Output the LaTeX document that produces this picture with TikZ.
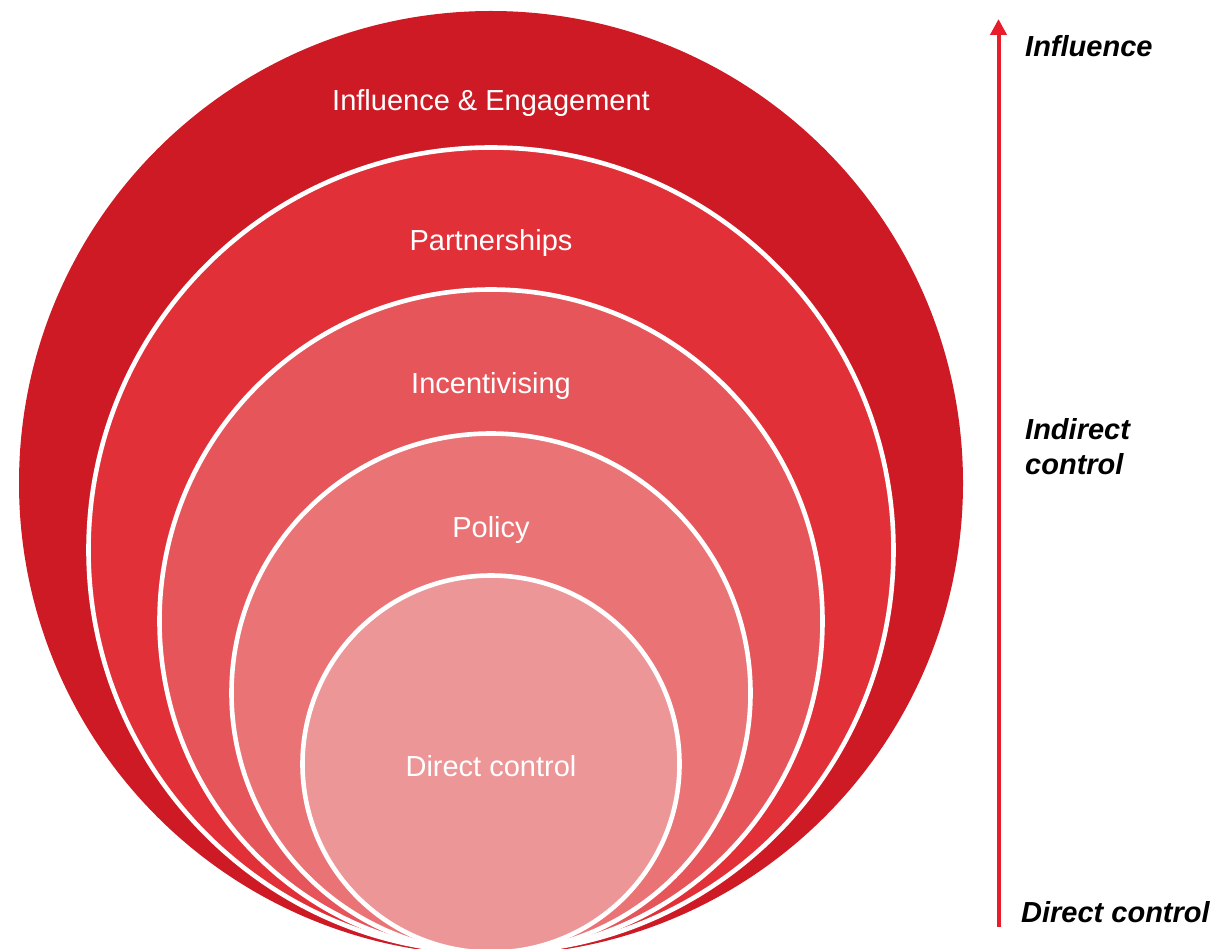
\documentclass[tikz,border=0pt]{standalone}
\usepackage{fontspec}
\setmainfont{Liberation Sans}
\usetikzlibrary{arrows.meta}
\definecolor{ringA}{HTML}{CD1A24}
\definecolor{ringB}{HTML}{E13038}
\definecolor{ringC}{HTML}{E5555A}
\definecolor{ringD}{HTML}{EA7475}
\definecolor{ringE}{HTML}{EC9698}
\definecolor{arrowred}{HTML}{E81C2B}
\tikzset{
  ring/.style={circle, inner sep=0pt, outer sep=0pt, draw=white, line width=4.6pt},
  ringlabel/.style={anchor=base, text=white, inner sep=0pt, font=\fontsize{29}{35}\selectfont},
  sidelabel/.style={anchor=base west, inner sep=0pt, align=left, font=\fontsize{29}{35}\selectfont\bfseries\itshape},
}
\begin{document}
\begin{tikzpicture}[x=1pt,y=-1pt]
\useasboundingbox (0,0) rectangle (1231,949);
\clip (0,0) rectangle (1231,949);
\node[ring, fill=ringA, draw=none, minimum size=944pt] (c1) at (491,483) {};
\node[ring, fill=ringB, minimum size=805pt] (c2) at (491,550) {};
\node[ring, fill=ringC, minimum size=663pt] (c3) at (491,621) {};
\node[ring, fill=ringD, minimum size=519pt] (c4) at (491,693) {};
\node[ring, fill=ringE, minimum size=377pt] (c5) at (491,764) {};
\node[ringlabel] (l1) at (491,111) {Influence \& Engagement};
\node[ringlabel] (l2) at (491,251) {Partnerships};
\node[ringlabel] (l3) at (491,393) {Incentivising};
\node[ringlabel] (l4) at (491,537) {Policy};
\node[ringlabel] (l5) at (491,776) {Direct control};
\coordinate (abot) at (998.5,927);
\coordinate (atop) at (998.5,19);
\draw[arrowred, line width=4pt, -{Triangle[width=16pt,length=16pt]}] (abot) -- (atop);
\node[sidelabel] (s1) at (1025,57) {Influence};
\node[sidelabel, anchor=west] (s2) at (1025,447) {Indirect\\control};
\node[sidelabel] (s3) at (1021,922) {Direct control};
\end{tikzpicture}
\end{document}
